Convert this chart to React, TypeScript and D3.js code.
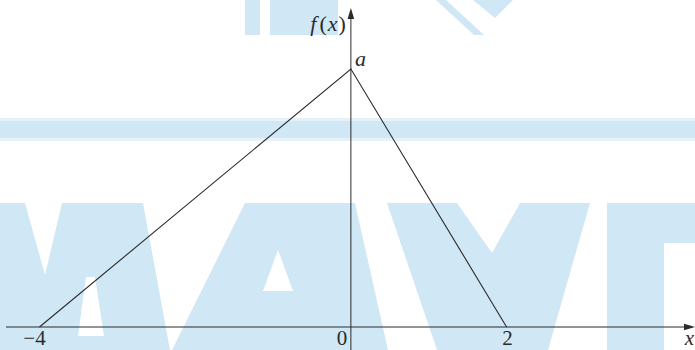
import React from 'react';
import * as d3 from 'd3';

// density f(x): triangle from -4 through (0, a) down to 2, a = 1/3
const peak = 1 / 3;
const xs = [-4, 0, 2];
const fx = [0, peak, 0];
const tickValues = [-4, 0, 2];
const tickLabels = ['\u22124', '0', '2'];
const tickShift = [-5, -9, 1];

const W = 695;
const H = 350;
const wmColor = '#d0e7f5';

// background watermark (decoration)
const watermark: [number, number][][] = [
  // M
  [[0, 203], [25, 203], [45, 275], [62, 203], [143, 203], [170, 350], [0, 350]],
  // A
  [[245, 203], [355, 203], [388, 350], [172, 350]],
  // Y
  [[387, 203], [457, 203], [492, 253], [520, 203], [590, 203], [548, 350], [437, 350]],
  // Г
  [[607, 203], [695, 203], [695, 243], [664, 243], [664, 350], [607, 350]],
  // top blocks
  [[245, 0], [260, 0], [260, 35], [245, 35]],
  [[270, 0], [338, 0], [338, 35], [270, 35]],
  [[473, 0], [513, 0], [495, 18]],
  [[436, 0], [446, 0], [484, 35], [474, 35]]
];
const wmHoles: [number, number][][] = [
  [[278, 250], [293, 291], [263, 291]],
  [[86, 277], [95, 277], [104, 336], [78, 336]]
];

export default function App() {
  const x = d3.scaleLinear().domain([-4.43, 4.42]).range([6, W]);
  const y = d3.scaleLinear().domain([0, peak]).range([327, 69]);
  const yBottom = y.invert(H);
  const yTop = y.invert(8);

  const pts = xs.map((v, i) => [v, fx[i]] as [number, number]);
  const line = d3.line<[number, number]>().x(d => x(d[0])).y(d => y(d[1]));
  const poly = d3.line<[number, number]>().curve(d3.curveLinearClosed);

  const x0 = x(0);
  const yAxisY = y(0);
  const ink = '#2b2b2b';
  const font = '"Liberation Serif", "Times New Roman", serif';

  return (
    <svg width={W} height={H} style={{ position: 'absolute', left: 0, top: 0, background: '#fff' }}>
      <g>
        {watermark.map((p, i) => <path key={i} d={poly(p) || ''} fill={wmColor} />)}
        {wmHoles.map((p, i) => <path key={'h' + i} d={poly(p) || ''} fill="#fff" />)}
        <rect x={0} y={121} width={W} height={17} fill={wmColor} />
        <rect x={0} y={118} width={W} height={3} fill="#e6f2fa" />
        <rect x={0} y={138} width={W} height={3} fill="#e6f2fa" />
      </g>

      {/* axes */}
      <line x1={x.range()[0]} x2={x.range()[1] - 8} y1={yAxisY} y2={yAxisY} stroke={ink} strokeWidth={1} />
      <path d={`M${W},${yAxisY} L${W - 11},${yAxisY - 3.3} L${W - 11},${yAxisY + 3.3} Z`} fill={ink} />
      <line x1={x0} x2={x0} y1={y(yBottom)} y2={y(yTop) + 8} stroke={ink} strokeWidth={1} />
      <path d={`M${x0},${y(yTop)} L${x0 - 3.3},${y(yTop) + 11} L${x0 + 3.3},${y(yTop) + 11} Z`} fill={ink} />

      {/* density */}
      <path d={line(pts) || ''} fill="none" stroke={ink} strokeWidth={1.1} />

      {/* labels */}
      <g fontFamily={font} fontSize={21} fill={ink}>
        {tickValues.map((v, i) => (
          <text key={v} x={x(v) + tickShift[i]} y={345} textAnchor="middle">{tickLabels[i]}</text>
        ))}
        <text x={W - 1} y={345} textAnchor="end" fontStyle="italic">x</text>
        <text x={x0 + 4} y={y(peak) - 3} fontStyle="italic" fontSize={22}>a</text>
        <text x={x0 - 5} y={31} textAnchor="end" fontSize={22}>
          <tspan fontStyle="italic">f</tspan>
          <tspan dx={3}>(</tspan>
          <tspan fontStyle="italic" dx={1}>x</tspan>
          <tspan dx={1}>)</tspan>
        </text>
      </g>
    </svg>
  );
}
